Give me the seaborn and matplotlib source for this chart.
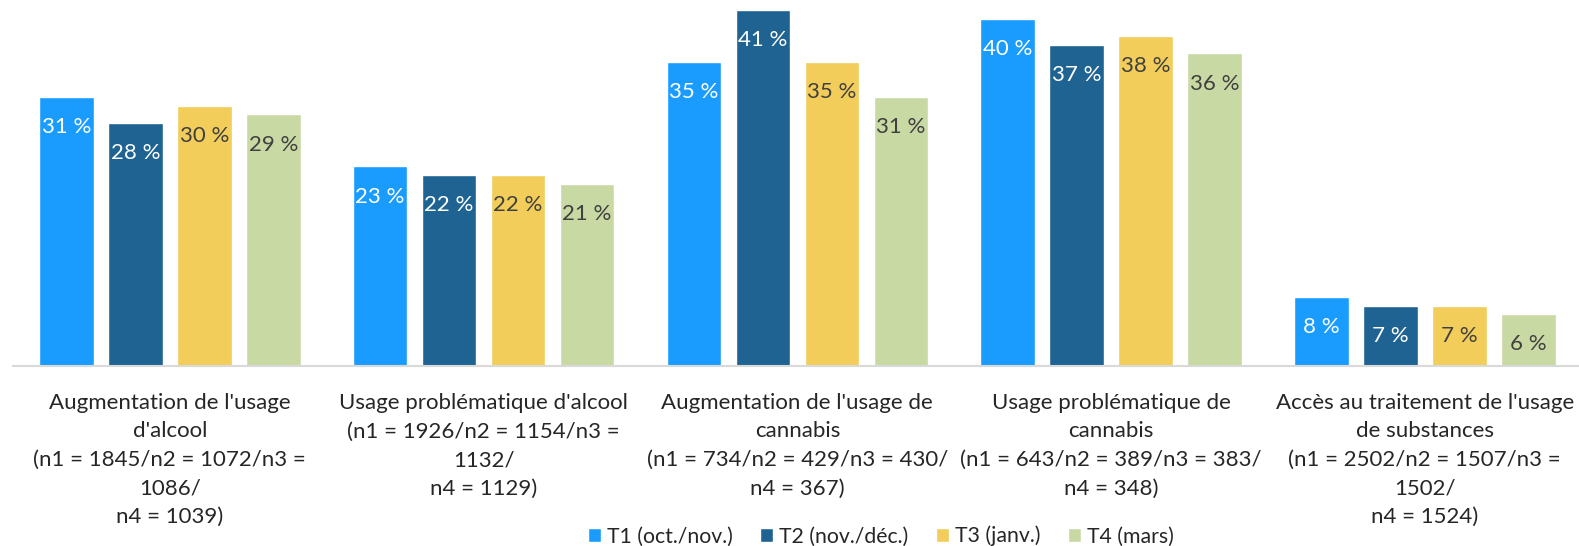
import matplotlib
matplotlib.use("Agg")
import matplotlib.pyplot as plt
import seaborn as sns
import pandas as pd

categories = [
    "Augmentation de l'usage\nd'alcool\n(n1 = 1845/n2 = 1072/n3 =\n1086/\nn4 = 1039)",
    "Usage problématique d'alcool\n(n1 = 1926/n2 = 1154/n3 =\n1132/\nn4 = 1129)",
    "Augmentation de l'usage de\ncannabis\n(n1 = 734/n2 = 429/n3 = 430/\nn4 = 367)",
    "Usage problématique de\ncannabis\n(n1 = 643/n2 = 389/n3 = 383/\nn4 = 348)",
    "Accès au traitement de l'usage\nde substances\n(n1 = 2502/n2 = 1507/n3 =\n1502/\nn4 = 1524)",
]
series = ["T1 (oct./nov.)", "T2 (nov./déc.)", "T3 (janv.)", "T4 (mars)"]
t1 = [31, 23, 35, 40, 8]
t2 = [28, 22, 41, 37, 7]
t3 = [30, 22, 35, 38, 7]
t4 = [29, 21, 31, 36, 6]

colors = ["#1A9CFF", "#1F6392", "#F2CD5A", "#C9D9A4"]
label_colors = ["white", "white", "#404040", "#404040"]

rows = []
for s, vals in zip(series, [t1, t2, t3, t4]):
    for c, v in zip(categories, vals):
        rows.append({"cat": c, "serie": s, "val": v})
df = pd.DataFrame(rows)

sns.set_theme(style="white")
plt.rcParams["font.family"] = ["Lato", "DejaVu Sans"]

fig = plt.figure(figsize=(15.79, 5.46), dpi=100)
ax = fig.add_axes([0.0082, 0.329, 0.9935, 0.671])

sns.barplot(data=df, x="cat", y="val", hue="serie", order=categories,
            hue_order=series, palette=colors, width=0.88, gap=0.21,
            saturation=1, ax=ax, legend=True)

for cont, lc in zip(ax.containers, label_colors):
    ax.bar_label(cont, labels=[f"{int(v)} %" for v in cont.datavalues],
                 label_type="edge", padding=-29, color=lc, fontsize=16)

ax.set_ylim(0, 42.15)
ax.set_xlim(-0.5, 4.5)
ax.set_xlabel("")
ax.set_ylabel("")
ax.set_yticks([])
for s in ["top", "right", "left"]:
    ax.spines[s].set_visible(False)
ax.spines["bottom"].set_color("#D9D9D9")
ax.spines["bottom"].set_linewidth(1.5)
ax.tick_params(axis="x", length=0, pad=19)
ax.set_xticks(range(len(categories)))
ax.set_xticklabels(categories, fontsize=16, linespacing=1.54,
                   color="#262626", va="top")

ax.legend_.remove()
handles, labels = ax.get_legend_handles_labels()
fig.legend(handles, labels, loc="center", bbox_to_anchor=(0.558, 0.018),
           ncol=4, frameon=False, fontsize=15.3, handlelength=0.61,
           handleheight=0.61, handletextpad=0.28, columnspacing=1.3,
           labelcolor="#262626", borderpad=0)

fig.savefig("out.png", dpi=100)
